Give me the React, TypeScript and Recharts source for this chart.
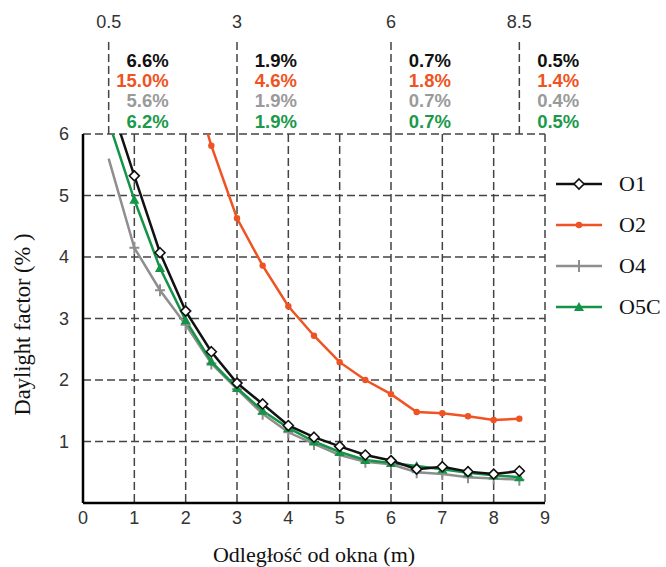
import React from 'react';
import { ComposedChart, Line, XAxis, YAxis, CartesianGrid, Legend, ReferenceLine, ReferenceDot } from 'recharts';

// distance from window (m)
const distances = [0.5, 1, 1.5, 2, 2.5, 3, 3.5, 4, 4.5, 5, 5.5, 6, 6.5, 7, 7.5, 8, 8.5];
const o1 = [6.6, 5.32, 4.07, 3.12, 2.46, 1.95, 1.61, 1.26, 1.07, 0.92, 0.78, 0.69, 0.55, 0.59, 0.51, 0.47, 0.52];
const o2 = [15.0, 11.0, 8.8, 7.2, 5.81, 4.63, 3.86, 3.2, 2.72, 2.29, 2.0, 1.77, 1.48, 1.46, 1.41, 1.35, 1.37];
const o4 = [5.6, 4.15, 3.46, 2.9, 2.27, 1.85, 1.45, 1.15, 0.96, 0.78, 0.67, 0.63, 0.5, 0.47, 0.42, 0.4, 0.38];
const o5c = [6.2, 4.93, 3.82, 2.97, 2.3, 1.87, 1.5, 1.22, 1.0, 0.83, 0.7, 0.65, 0.6, 0.55, 0.49, 0.45, 0.42];

const xTicks = [0, 1, 2, 3, 4, 5, 6, 7, 8, 9];
const yTicks = [1, 2, 3, 4, 5, 6];

// annotated distances at the top
const topMarks = [0.5, 3, 6, 8.5];
const topLabels = ['0.5', '3', '6', '8.5'];
const pctO1 = ['6.6%', '1.9%', '0.7%', '0.5%'];
const pctO2 = ['15.0%', '4.6%', '1.8%', '1.4%'];
const pctO4 = ['5.6%', '1.9%', '0.7%', '0.4%'];
const pctO5C = ['6.2%', '1.9%', '0.7%', '0.5%'];

const seriesNames = ['O1', 'O2', 'O4', 'O5C'];
const COLORS = { o1: '#111111', o2: '#f05323', o4: '#8e8e8e', o5c: '#149447' };
const PCT_COLORS = ['#111111', '#f05323', '#9a9a9a', '#1a9a4a'];

const data = distances.map((d, i) => ({ d, o1: o1[i], o2: o2[i], o4: o4[i], o5c: o5c[i] }));

const sans = 'Arial, "Liberation Sans", Helvetica, sans-serif';
const serif = '"Times New Roman", "Liberation Serif", serif';

const drawMarker = (shape: string, cx: number, cy: number) => {
  if (shape === 'diamond')
    return <path d={`M${cx},${cy - 5}L${cx + 5},${cy}L${cx},${cy + 5}L${cx - 5},${cy}Z`} fill="#fff" stroke={COLORS.o1} strokeWidth={1.6} />;
  if (shape === 'circle') return <circle cx={cx} cy={cy} r={3.2} fill={COLORS.o2} />;
  if (shape === 'plus')
    return <path d={`M${cx - 5},${cy}H${cx + 5}M${cx},${cy - 6}V${cy + 6}`} stroke={COLORS.o4} strokeWidth={2} fill="none" />;
  return <path d={`M${cx},${cy - 5}L${cx + 5},${cy + 4}L${cx - 5},${cy + 4}Z`} fill={COLORS.o5c} />;
};

const makeDot = (shape: string) => (props: any) => {
  const { cx, cy, payload, value, index } = props;
  if (cx == null || cy == null || payload.d === 0.5 || value > 6) return <g key={`h-${index}`} />;
  return <g key={`d-${index}`}>{drawMarker(shape, cx, cy)}</g>;
};

const shapes = ['diamond', 'circle', 'plus', 'triangle'];
const seriesColors = [COLORS.o1, COLORS.o2, COLORS.o4, COLORS.o5c];

const renderLegend = () => (
  <div style={{ display: 'flex', flexDirection: 'column' }}>
    {seriesNames.map((name, i) => (
      <div key={name} style={{ display: 'flex', alignItems: 'center', height: 41 }}>
        <svg width={52} height={20}>
          <line x1={3} x2={49} y1={10} y2={10} stroke={seriesColors[i]} strokeWidth={2.5} />
          {drawMarker(shapes[i], 26, 10)}
        </svg>
        <span style={{ fontFamily: serif, fontSize: 22, color: '#111', marginLeft: 14 }}>{name}</span>
      </div>
    ))}
  </div>
);

const renderTop = (i: number) => (props: any) => {
  const vb = props.viewBox || {};
  const cx = vb.x + (vb.width || 0) / 2;
  const cy = vb.y + (vb.height || 0) / 2;
  const rows = [pctO1[i], pctO2[i], pctO4[i], pctO5C[i]];
  const offs = [-67, -47.5, -27.5, -6];
  return (
    <g>
      <text x={cx} y={cy - 106} textAnchor="middle" fontFamily={sans} fontSize={18} fill="#333">{topLabels[i]}</text>
      {rows.map((t, k) => (
        <text key={k} x={cx + 60} y={cy + offs[k]} textAnchor="end" fontFamily={sans} fontWeight="bold" fontSize={18.5} fill={PCT_COLORS[k]}>{t}</text>
      ))}
    </g>
  );
};

export default function App() {
  return (
    <div style={{ position: 'absolute', left: 0, top: 0, background: '#fff' }}>
      <ComposedChart width={666} height={567} data={data} margin={{ top: 134, right: 121, bottom: 34, left: 0 }}>
        <CartesianGrid stroke="#444" strokeWidth={1.5} strokeDasharray="8 4" />
        <XAxis
          type="number"
          dataKey="d"
          domain={[0, 9]}
          ticks={xTicks}
          allowDataOverflow
          height={30}
          axisLine={{ stroke: '#000', strokeWidth: 2.5 }}
          tickLine={false}
          tick={{ fontFamily: sans, fontSize: 18, fill: '#333' }}
          label={{
            content: (p: any) => {
              const vb = p.viewBox;
              return <text x={vb.x + vb.width / 2} y={vb.y + 59} textAnchor="middle" fontFamily={serif} fontSize={22} fill="#111">Odległość od okna (m)</text>;
            },
          }}
        />
        <YAxis
          type="number"
          domain={[0, 6]}
          ticks={yTicks}
          allowDataOverflow
          width={83}
          axisLine={{ stroke: '#000', strokeWidth: 2.5 }}
          tickLine={false}
          tickMargin={8}
          tick={{ fontFamily: sans, fontSize: 18, fill: '#333' }}
          label={{
            content: (p: any) => {
              const vb = p.viewBox;
              const x = vb.x + 22;
              const y = vb.y + vb.height / 2 + 6;
              return <text x={x} y={y} transform={`rotate(-90 ${x} ${y})`} textAnchor="middle" dominantBaseline="central" fontFamily={serif} fontSize={22.5} fill="#111">Daylight factor (% )</text>;
            },
          }}
        />
        {topMarks.map((m) => (
          <ReferenceLine key={`rl-${m}`} segment={[{ x: m, y: 6 }, { x: m, y: 7.56 }]} ifOverflow="visible" stroke="#444" strokeWidth={1.5} strokeDasharray="8 4" />
        ))}
        {topMarks.map((m, i) => (
          <ReferenceDot key={`rd-${m}`} x={m} y={6} r={0} ifOverflow="visible" stroke="none" fill="none" label={renderTop(i)} />
        ))}
        <Line type="linear" dataKey="o2" stroke={COLORS.o2} strokeWidth={2.5} dot={makeDot('circle')} activeDot={false} isAnimationActive={false} />
        <Line type="linear" dataKey="o4" stroke={COLORS.o4} strokeWidth={2.5} dot={makeDot('plus')} activeDot={false} isAnimationActive={false} />
        <Line type="linear" dataKey="o5c" stroke={COLORS.o5c} strokeWidth={2.5} dot={makeDot('triangle')} activeDot={false} isAnimationActive={false} />
        <Line type="linear" dataKey="o1" stroke={COLORS.o1} strokeWidth={2.5} dot={makeDot('diamond')} activeDot={false} isAnimationActive={false} />
        <Legend
          layout="vertical"
          align="center"
          verticalAlign="middle"
          content={renderLegend}
          wrapperStyle={{ left: 553, top: 163, width: 113 }}
        />
      </ComposedChart>
    </div>
  );
}
